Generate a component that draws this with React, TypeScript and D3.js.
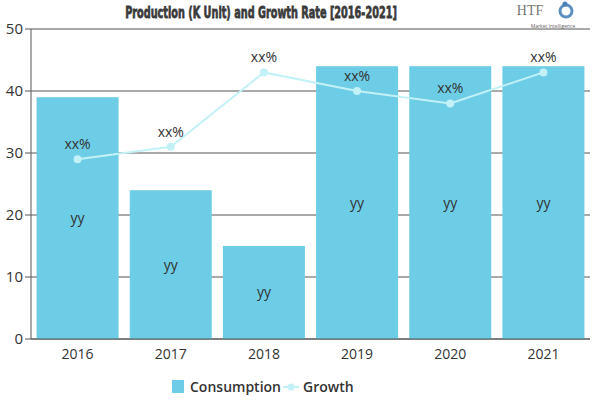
import React, { useEffect, useRef, useState } from "react";
import * as d3 from "d3";

const years = ["2016", "2017", "2018", "2019", "2020", "2021"];
const consumption = [39, 24, 15, 44, 44, 44];
const growth = [29, 31, 43, 40, 38, 43];
const barLabels = ["yy", "yy", "yy", "yy", "yy", "yy"];
const growthLabels = ["xx%", "xx%", "xx%", "xx%", "xx%", "xx%"];
const yTicks = [0, 10, 20, 30, 40, 50];
const titleText = "Production (K Unit) and Growth Rate [2016-2021]";

const W = 600, H = 400;
const left = 31, right = 590, top = 29, bottom = 339;
const barColor = "#6DCDE6";
const lineColor = "#C2F1F7";
const font = "'Open Sans', 'Noto Sans', sans-serif";
const titleWidth = 272;

export default function App() {
  const titleRef = useRef<SVGTextElement>(null);
  const [sx, setSx] = useState(0.6);
  useEffect(() => {
    if (titleRef.current) {
      const w = titleRef.current.getComputedTextLength();
      if (w > 0) setSx(titleWidth / w);
    }
  }, []);

  const x = d3.scaleBand<string>().domain(years).range([left, right]).paddingInner(0.12).paddingOuter(0.06);
  const y = d3.scaleLinear().domain([0, 50]).range([bottom, top]);
  const line = d3.line<number>().x((_, i) => (x(years[i]) as number) + x.bandwidth() / 2).y(d => y(d));

  return (
    <svg width={W} height={H} style={{ position: "absolute", left: 0, top: 0 }} fontFamily={font}>
      <rect width={W} height={H} fill="#fff" />
      <g transform={`translate(261,18) scale(${sx},1)`}>
        <text ref={titleRef} x={0} y={0} textAnchor="middle" fontFamily="'DejaVu Sans', sans-serif" fontWeight="bold" fontSize={16} fill="#3a3a3a" stroke="#3a3a3a" strokeWidth={0.8}>
          {titleText}
        </text>
      </g>
      {/* logo */}
      <g>
        <text x={530} y={15} textAnchor="middle" fontFamily="'Liberation Serif', serif" fontSize={14} fill="#777">HTF</text>
        <circle cx={566} cy={11} r={6} fill="none" stroke="#5a8fc0" strokeWidth={3} />
        <circle cx={565} cy={4} r={2.5} fill="#4a7fb5" />
        <text x={553} y={28} textAnchor="middle" fontSize={5} fill="#666">Market Intelligence</text>
      </g>
      {/* gridlines */}
      {yTicks.map(t => (
        <g key={t}>
          <line x1={left - 6} x2={right} y1={y(t)} y2={y(t)} stroke="#555" strokeWidth={1} />
          <text x={left - 8} y={y(t)} dy="0.35em" textAnchor="end" fontSize={15} fill="#333">{t}</text>
        </g>
      ))}
      <line x1={left} x2={left} y1={top} y2={bottom} stroke="#555" strokeWidth={1} />
      {/* bars */}
      {consumption.map((v, i) => (
        <rect key={i} x={x(years[i])} y={y(v)} width={x.bandwidth()} height={bottom - y(v)} fill={barColor} />
      ))}
      {consumption.map((v, i) => (
        <text key={"bl" + i} x={(x(years[i]) as number) + x.bandwidth() / 2} y={y(v / 2)} dy="0.35em" textAnchor="middle" fontSize={14} fill="#333">{barLabels[i]}</text>
      ))}
      <line x1={left} x2={right} y1={bottom} y2={bottom} stroke="#555" strokeWidth={1} />
      {years.map(yr => (
        <text key={yr} x={(x(yr) as number) + x.bandwidth() / 2} y={bottom + 20} textAnchor="middle" fontSize={14} fill="#333">{yr}</text>
      ))}
      {/* line */}
      <path d={line(growth) || ""} fill="none" stroke={lineColor} strokeWidth={2} />
      {growth.map((v, i) => (
        <circle key={"c" + i} cx={(x(years[i]) as number) + x.bandwidth() / 2} cy={y(v)} r={4} fill={lineColor} />
      ))}
      {growth.map((v, i) => (
        <text key={"gl" + i} x={(x(years[i]) as number) + x.bandwidth() / 2} y={y(v) - 10} textAnchor="middle" fontSize={14} fill="#333">{growthLabels[i]}</text>
      ))}
      {/* legend */}
      <rect x={172} y={380} width={12} height={13} fill={barColor} />
      <text x={190} y={392} fontSize={14} fontWeight="600" fill="#333">Consumption</text>
      <line x1={283} x2={299} y1={387} y2={387} stroke={lineColor} strokeWidth={2} />
      <circle cx={291} cy={387} r={3.5} fill={lineColor} />
      <text x={303} y={392} fontSize={14} fontWeight="600" fill="#333">Growth</text>
    </svg>
  );
}
